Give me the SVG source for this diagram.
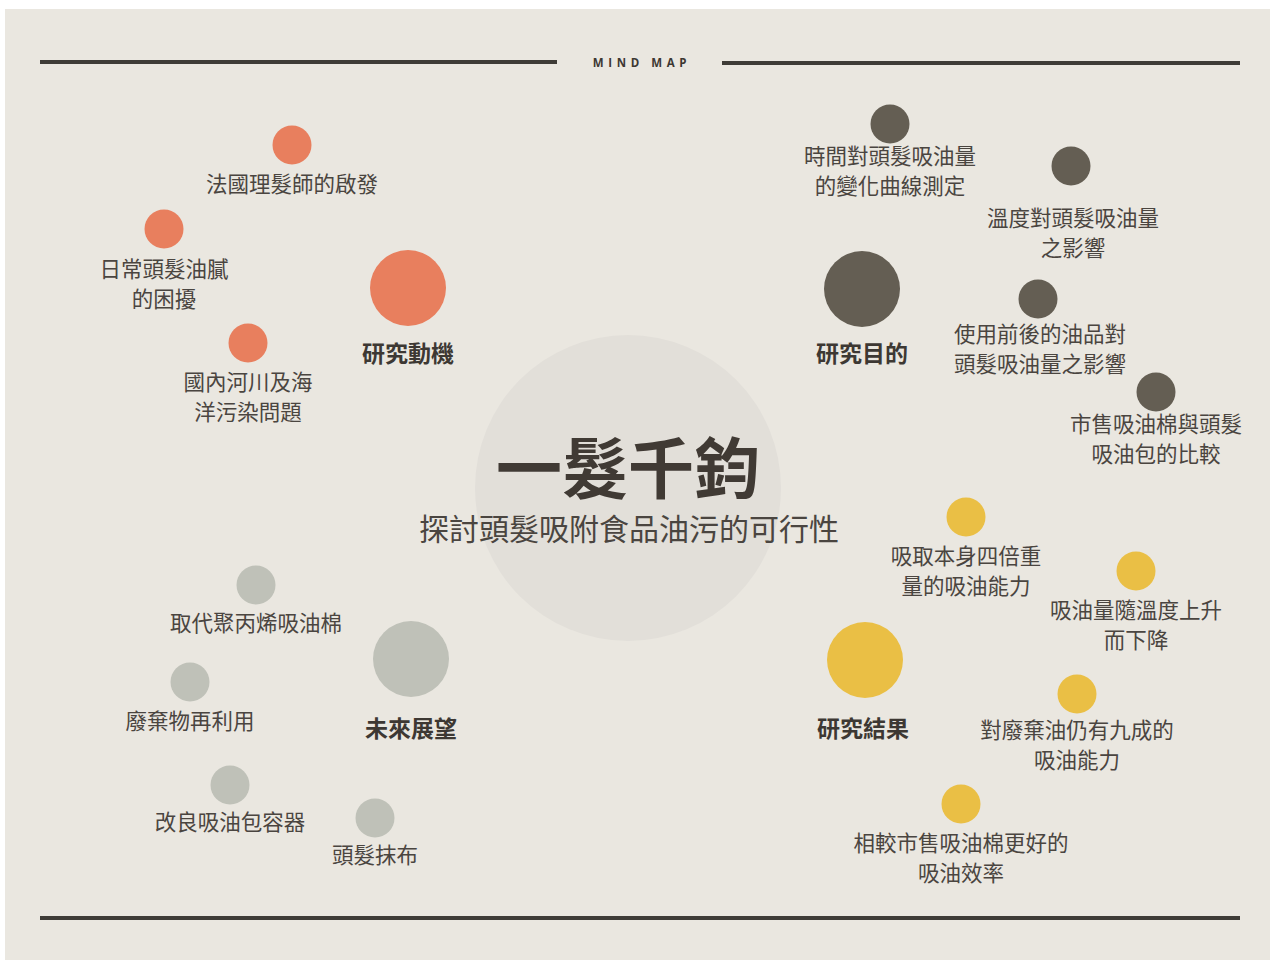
<svg xmlns="http://www.w3.org/2000/svg" width="1270" height="960" viewBox="0 0 1270 960">
<style>
.lbl{font-family:"Noto Sans CJK TC","Noto Sans CJK SC",sans-serif;font-size:21.5px;fill:#4a4540;text-anchor:middle}
.hd{font-family:"Noto Sans CJK TC","Noto Sans CJK SC",sans-serif;font-size:23px;font-weight:bold;fill:#3d3833;text-anchor:middle}
.o{fill:#E87F5E}.d{fill:#645E53}.y{fill:#EABF45}.g{fill:#BFC1B8}
.rule{stroke:#3f3c37;stroke-width:4}
</style>
<rect x="0" y="0" width="1270" height="960" fill="#ffffff"/>
<rect x="5" y="9" width="1265" height="951" fill="#EAE7E0"/>
<g id="header">
<line class="rule" x1="40" y1="62" x2="557" y2="62"/>
<line class="rule" x1="722" y1="63" x2="1240" y2="63"/>
<text x="642" y="67" font-family="'Open Sans','Liberation Sans',sans-serif" font-size="11.5" font-weight="bold" letter-spacing="4.6" fill="#3d3833" text-anchor="middle">MIND MAP</text>
<line class="rule" x1="40" y1="918" x2="1240" y2="918"/>
</g>
<g id="center">
<circle cx="628" cy="488" r="153" fill="#E2DFD9"/>
<text x="628" y="493" font-family="'Noto Sans CJK TC','Noto Sans CJK SC',sans-serif" font-size="66" font-weight="bold" fill="#403a34" text-anchor="middle">一髮千鈞</text>
<text x="629" y="540" font-family="'Noto Sans CJK TC','Noto Sans CJK SC',sans-serif" font-size="30" fill="#4a4540" text-anchor="middle">探討頭髮吸附食品油污的可行性</text>
</g>
<g id="connectors"></g>
<g id="motivation">
<circle class="o" cx="408" cy="288" r="38"/>
<text class="hd" x="408" y="362">研究動機</text>
</g>
<g id="m1"><circle class="o" cx="292" cy="145" r="19.5"/><text class="lbl" x="292" y="192">法國理髮師的啟發</text></g>
<g id="m2"><circle class="o" cx="164" cy="229" r="19.5"/><text class="lbl" x="164" y="277">日常頭髮油膩</text><text class="lbl" x="164" y="307">的困擾</text></g>
<g id="m3"><circle class="o" cx="248" cy="343" r="19.5"/><text class="lbl" x="248" y="390">國內河川及海</text><text class="lbl" x="248" y="420">洋污染問題</text></g>
<g id="purpose">
<circle class="d" cx="862" cy="289" r="38"/>
<text class="hd" x="862" y="362">研究目的</text>
</g>
<g id="p1"><circle class="d" cx="890" cy="124" r="19.5"/><text class="lbl" x="890" y="164">時間對頭髮吸油量</text><text class="lbl" x="890" y="194">的變化曲線測定</text></g>
<g id="p2"><circle class="d" cx="1071" cy="166" r="19.5"/><text class="lbl" x="1073" y="226">溫度對頭髮吸油量</text><text class="lbl" x="1073" y="256">之影響</text></g>
<g id="p3"><circle class="d" cx="1038" cy="299" r="19.5"/><text class="lbl" x="1040" y="342">使用前後的油品對</text><text class="lbl" x="1040" y="372">頭髮吸油量之影響</text></g>
<g id="p4"><circle class="d" cx="1156" cy="392" r="19.5"/><text class="lbl" x="1156" y="432">市售吸油棉與頭髮</text><text class="lbl" x="1156" y="462">吸油包的比較</text></g>
<g id="results">
<circle class="y" cx="865" cy="660" r="38"/>
<text class="hd" x="863" y="737">研究結果</text>
</g>
<g id="r1"><circle class="y" cx="966" cy="517" r="19.5"/><text class="lbl" x="966" y="564">吸取本身四倍重</text><text class="lbl" x="966" y="594">量的吸油能力</text></g>
<g id="r2"><circle class="y" cx="1136" cy="571" r="19.5"/><text class="lbl" x="1136" y="618">吸油量隨溫度上升</text><text class="lbl" x="1136" y="648">而下降</text></g>
<g id="r3"><circle class="y" cx="1077" cy="694" r="19.5"/><text class="lbl" x="1077" y="738">對廢棄油仍有九成的</text><text class="lbl" x="1077" y="768">吸油能力</text></g>
<g id="r4"><circle class="y" cx="961" cy="804" r="19.5"/><text class="lbl" x="961" y="851">相較市售吸油棉更好的</text><text class="lbl" x="961" y="881">吸油效率</text></g>
<g id="future">
<circle class="g" cx="411" cy="659" r="38"/>
<text class="hd" x="411" y="737">未來展望</text>
</g>
<g id="f1"><circle class="g" cx="256" cy="585" r="19.5"/><text class="lbl" x="256" y="631">取代聚丙烯吸油棉</text></g>
<g id="f2"><circle class="g" cx="190" cy="682" r="19.5"/><text class="lbl" x="190" y="729">廢棄物再利用</text></g>
<g id="f3"><circle class="g" cx="230" cy="785" r="19.5"/><text class="lbl" x="230" y="830">改良吸油包容器</text></g>
<g id="f4"><circle class="g" cx="375" cy="818" r="19.5"/><text class="lbl" x="375" y="863">頭髮抹布</text></g>
</svg>
